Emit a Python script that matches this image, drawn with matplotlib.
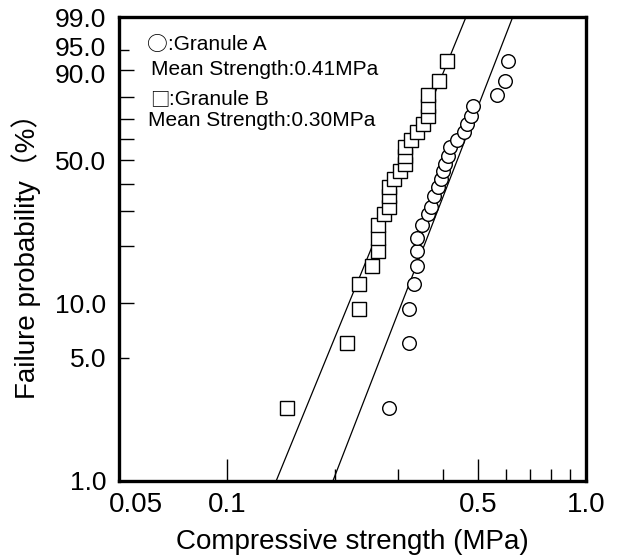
import numpy as np
import matplotlib
matplotlib.use('Agg')
import matplotlib.pyplot as plt
from matplotlib.transforms import ScaledTranslation

plt.rcParams['font.family'] = ['Liberation Sans', 'DejaVu Sans', 'Noto Sans CJK JP']

# cumulative failure probability (%), same ranks for both granules
prob = [2.6, 6.0, 9.3, 12.7, 15.8, 19.0, 22.1, 25.7, 28.8, 31.4, 35.0, 38.5, 41.7,
        45.2, 48.3, 52.0, 56.2, 59.6, 63.5, 67.4, 71.3, 76.0, 80.8, 86.3, 92.5]

# compressive strength (MPa)
strength_a = [0.283, 0.321, 0.321, 0.332, 0.339, 0.339, 0.339, 0.349, 0.363, 0.370,
              0.377, 0.387, 0.395, 0.400, 0.405, 0.413, 0.418, 0.437, 0.458, 0.466,
              0.478, 0.485, 0.565, 0.595, 0.606]
strength_b = [0.147, 0.216, 0.233, 0.233, 0.253, 0.263, 0.263, 0.263, 0.274, 0.283,
              0.283, 0.283, 0.292, 0.303, 0.313, 0.313, 0.313, 0.325, 0.338, 0.352,
              0.363, 0.363, 0.363, 0.390, 0.410]

# weibull fits: modulus m and scale x0 (MPa)
m_a, x0_a = 5.31, 0.469
m_b, x0_b = 5.03, 0.342

xticks = [0.05, 0.1, 0.5, 1.0]
xtick_labels = ['0.05', '0.1', '0.5', '1.0']
xminor = [0.2, 0.3, 0.4, 0.6, 0.7, 0.8, 0.9]
yticks = [1, 10, 20, 30, 40, 50, 60, 70, 80, 90, 99]
ytick_labels = ['1.0', '10.0', '', '', '', '50.0', '', '', '', '90.0', '99.0']
yminor = [5, 95]
yminor_labels = ['5.0', '95.0']


def weib(p):
    p = np.clip(np.asarray(p, dtype=float), 1e-6, 100 - 1e-6) / 100.0
    return np.log(-np.log(1 - p))


def weib_inv(y):
    return 100.0 * (1 - np.exp(-np.exp(y)))


def nudge(lab, dx, dy):
    # move a tick label by dx, dy pixels
    lab.set_transform(lab.get_transform() +
                      ScaledTranslation(dx / 100, dy / 100, fig.dpi_scale_trans))


fig = plt.figure(figsize=(6.22, 5.58), dpi=100)
ax = fig.add_axes([0.1913, 0.138, 0.7507, 0.8315])
ax.set_xscale('log')
ax.set_yscale('function', functions=(weib, weib_inv))

# fitted lines
pf = np.linspace(1, 99, 200)
F = pf / 100.0
ax.plot(x0_a * (-np.log(1 - F)) ** (1 / m_a), pf, color='black', lw=0.9)
ax.plot(x0_b * (-np.log(1 - F)) ** (1 / m_b), pf, color='black', lw=0.9)

ax.plot(strength_a, prob, 'o', ms=9.8, mfc='white', mec='black', mew=1.0, ls='none')
ax.plot(strength_b, prob, 's', ms=9.6, mfc='white', mec='black', mew=1.0, ls='none')

ax.set_xlim(0.05, 1.0)
ax.set_ylim(1, 99)

ax.set_xticks(xticks)
ax.set_xticklabels(xtick_labels)
ax.set_xticks(xminor, minor=True)
ax.xaxis.set_minor_formatter(plt.NullFormatter())
ax.set_yticks(yticks)
ax.set_yticklabels(ytick_labels)
ax.set_yticks(yminor, minor=True)
ax.set_yticklabels(yminor_labels, minor=True)

ax.tick_params(axis='x', which='major', direction='in', length=16, width=1,
               labelsize=20, pad=8)
ax.tick_params(axis='x', which='minor', direction='in', length=8.6, width=1)
ax.tick_params(axis='y', which='major', direction='in', length=11, width=1,
               labelsize=19, pad=9)
ax.tick_params(axis='y', which='minor', direction='in', length=7.5, width=1,
               labelsize=19, pad=9)

# keep the crowded labels apart
nudge(ax.get_xticklabels()[0], 17, 0)
nudge(ax.get_yticklabels()[9], 0, -4)
nudge(ax.get_yticklabels(minor=True)[1], 0, 3)

for s in ax.spines.values():
    s.set_linewidth(2.4)

ax.set_xlabel('Compressive strength (MPa)', fontsize=20, labelpad=8)
ax.set_ylabel('Failure probability（%）', fontsize=20, labelpad=10)

ax.text(0.0814, 0.940, '○', transform=ax.transAxes, fontsize=15, ha='center',
        va='center', family='Noto Sans CJK JP')
ax.text(0.104, 0.940, ':Granule A', transform=ax.transAxes, fontsize=15, va='center')
ax.text(0.068, 0.886, 'Mean Strength:0.41MPa', transform=ax.transAxes, fontsize=15, va='center')
ax.text(0.0867, 0.822, '□', transform=ax.transAxes, fontsize=14, ha='center',
        va='center', family='Noto Sans CJK JP')
ax.text(0.107, 0.822, ':Granule B', transform=ax.transAxes, fontsize=15, va='center')
ax.text(0.062, 0.778, 'Mean Strength:0.30MPa', transform=ax.transAxes, fontsize=15, va='center')

fig.savefig('out.png', dpi=100)
